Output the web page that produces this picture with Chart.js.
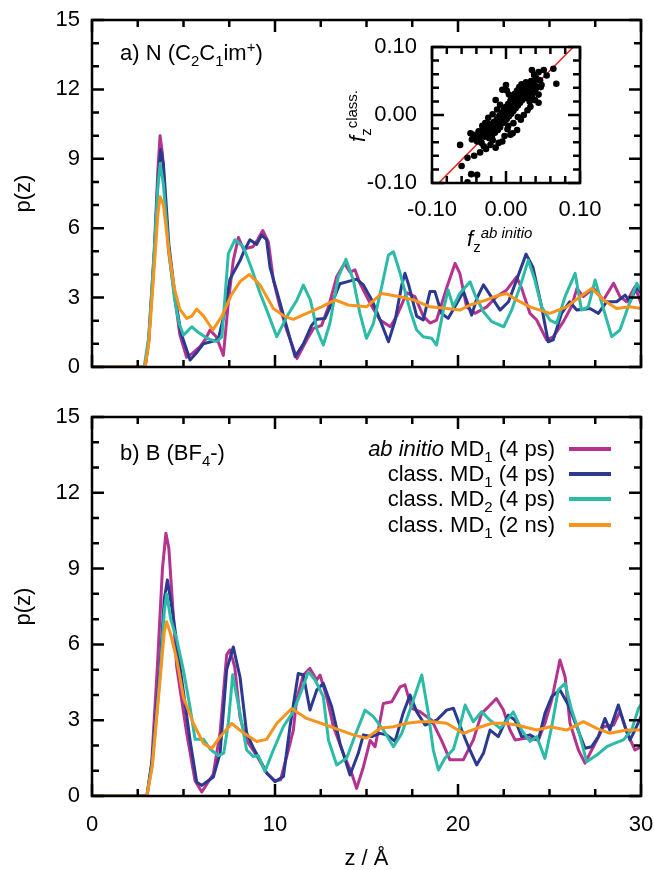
<!DOCTYPE html>
<html>
<head>
<meta charset="utf-8">
<script src="https://cdn.jsdelivr.net/npm/chart.js@4.4.1/dist/chart.umd.min.js"></script>
<style>
  body { margin: 0; background: #fff; }
  #wrap { position: relative; width: 654px; height: 870px; font-family: "Liberation Sans", Arial, sans-serif; font-size: 22px; color: #000; }
  canvas { position: absolute; }
  .lab { position: absolute; line-height: 26px; white-space: nowrap; }
  .sb { font-size: 15px; position: relative; top: 6px; }
  .sp { font-size: 15px; position: relative; top: -8px; }
  .key { position: absolute; left: 569px; width: 42px; height: 4px; }
</style>
</head>
<body>
<div id="wrap">
  <canvas id="chartA" width="654" height="390" style="left:0;top:0"></canvas>
  <canvas id="chartB" width="654" height="480" style="left:0;top:390px"></canvas>
  <canvas id="inset" width="280" height="200" style="left:340px;top:30px"></canvas>

  <div class="lab" style="left:120px;top:40px">a) N (C<span class="sb">2</span>C<span class="sb">1</span>im<span class="sp">+</span>)</div>
  <div class="lab" style="left:120px;top:440px">b) B (BF<span class="sb">4</span>-)</div>

  <!-- legend, panel b -->
  <div class="lab" style="right:99px;top:436px;text-align:right"><i>ab initio</i> MD<span class="sb">1</span> (4 ps)</div>
  <div class="lab" style="right:99px;top:461px;text-align:right">class. MD<span class="sb">1</span> (4 ps)</div>
  <div class="lab" style="right:99px;top:486px;text-align:right">class. MD<span class="sb">2</span> (4 ps)</div>
  <div class="lab" style="right:99px;top:512px;text-align:right">class. MD<span class="sb">1</span> (2 ns)</div>
  <div class="key" id="k1" style="top:447px"></div>
  <div class="key" id="k2" style="top:472px"></div>
  <div class="key" id="k3" style="top:497px"></div>
  <div class="key" id="k4" style="top:523px"></div>

  <!-- inset axis titles -->
  <div class="lab" style="left:467px;top:226px"><i>f</i><span class="sb">z</span><span class="sp"><i>ab initio</i></span></div>
  <div class="lab" style="left:309px;top:102px;width:100px;text-align:center;transform:rotate(-90deg)"><i>f</i><span class="sb">z</span><span class="sp">class.</span></div>
</div>

<script>
// tick labels
const zTicks = [0, 10, 20, 30];
const pTicks = [0, 3, 6, 9, 12, 15];
const fTicks = [-0.1, 0, 0.1];

// panel a: N (C2C1im+), [z, p(z)]
const aAbInitio = [[0,0],[2.9,0],[3.1,1.2],[3.4,5.0],[3.6,8.5],[3.72,10.0],[3.85,9.2],[4.17,5.1],[4.54,2.9],[4.8,1.4],[5.17,0.42],[5.5,0.6],[5.9,0.88],[6.2,1.2],[6.45,1.6],[6.8,1.3],[7.18,0.5],[7.45,2.8],[7.72,4.6],[8.0,5.6],[8.27,5.1],[8.8,5.2],[9.05,5.5],[9.33,5.9],[9.64,5.4],[9.91,3.76],[10.27,2.6],[10.64,1.6],[11.2,0.37],[11.73,1.17],[12.1,1.67],[12.55,1.8],[12.92,2.6],[13.37,3.9],[13.8,4.48],[14.1,4.1],[14.37,4.2],[14.64,3.62],[15.2,2.75],[15.74,2.03],[16.3,1.74],[16.65,2.2],[17.2,3.2],[17.65,3.04],[18.1,2.2],[18.47,1.9],[18.83,2.03],[19.4,3.47],[19.84,4.48],[20.1,4.05],[20.47,2.6],[20.93,2.32],[21.57,2.6],[22.1,3.04],[22.66,3.33],[23.2,3.9],[23.48,3.4],[23.93,2.32],[24.3,2.03],[24.84,1.17],[25.2,1.3],[25.76,1.96],[26.2,2.61],[26.5,3.4],[26.85,3.04],[27.4,3.4],[27.95,2.9],[28.5,3.62],[28.85,3.04],[29.22,2.82],[29.67,3.47],[30,2.75]];
const aClass1 = [[0,0],[2.9,0],[3.1,1.1],[3.4,4.8],[3.6,8.0],[3.75,9.4],[3.9,8.8],[4.2,5.3],[4.55,3.0],[4.85,1.5],[5.36,0.3],[5.7,0.6],[6.08,1.0],[6.54,1.1],[6.9,1.2],[7.2,2.2],[7.54,3.8],[8.09,4.6],[8.3,5.0],[8.63,5.5],[9.0,5.3],[9.27,5.7],[9.54,5.5],[9.73,4.3],[10.09,3.3],[10.64,1.73],[11.1,0.45],[11.55,1.0],[12.0,1.8],[12.28,2.06],[12.73,2.1],[13.1,2.75],[13.55,3.6],[13.92,3.68],[14.46,3.8],[14.83,3.55],[15.29,2.9],[15.74,2.04],[16.2,1.09],[16.56,2.0],[16.93,3.56],[17.1,4.05],[17.3,3.56],[17.74,2.2],[18.1,2.03],[18.47,3.26],[18.74,3.26],[19.1,2.32],[19.46,2.1],[19.93,2.75],[20.3,3.26],[20.75,2.24],[21.03,2.97],[21.39,3.55],[21.76,3.11],[22.3,2.46],[22.76,2.82],[23.2,3.76],[23.72,4.88],[24.1,4.3],[24.57,2.6],[24.93,1.09],[25.2,1.17],[25.66,2.32],[26.1,2.82],[26.49,2.46],[27.21,2.53],[27.67,2.32],[28.12,2.82],[28.67,2.82],[29.13,3.11],[29.4,2.82],[29.77,3.47],[30,3.2]];
const aClass2 = [[0,0],[2.85,0],[3.1,1.3],[3.4,5.0],[3.6,7.8],[3.72,8.8],[3.9,7.9],[4.2,5.0],[4.5,3.0],[4.75,1.9],[5.0,1.38],[5.45,1.74],[5.8,1.5],[6.27,1.25],[6.8,1.1],[7.1,1.3],[7.45,4.9],[7.81,5.5],[8.27,5.2],[8.7,4.3],[9.18,3.2],[9.55,2.46],[10.1,1.31],[10.64,2.17],[11.2,2.9],[11.55,3.54],[11.93,2.9],[12.3,1.6],[12.64,0.95],[13.0,1.89],[13.46,3.9],[13.88,4.65],[14.28,3.76],[14.64,2.32],[15.0,1.24],[15.38,1.89],[15.83,3.47],[16.2,4.84],[16.47,4.98],[16.84,4.05],[17.38,2.46],[17.74,1.6],[18.1,1.31],[18.56,1.24],[18.83,0.95],[19.2,2.46],[19.46,3.33],[19.74,2.61],[20.1,3.18],[20.66,3.68],[20.93,3.11],[21.39,2.39],[21.84,1.96],[22.5,1.74],[22.93,2.46],[23.39,3.47],[23.84,4.62],[24.2,3.76],[24.57,2.6],[25.02,2.03],[25.39,1.89],[25.85,3.04],[26.4,4.05],[26.75,2.46],[27.12,2.6],[27.49,3.76],[27.86,2.75],[28.4,1.31],[28.85,1.6],[29.3,2.6],[29.77,3.62],[30,3.3]];
const aClass1Long = [[0,0],[2.9,0],[3.1,1.0],[3.4,4.3],[3.6,6.6],[3.72,7.36],[3.9,7.0],[4.2,5.0],[4.5,3.4],[4.8,2.5],[5.17,2.1],[5.45,2.2],[5.72,2.5],[6.1,2.2],[6.6,1.6],[7.1,2.2],[7.6,3.1],[8.1,3.7],[8.6,4.0],[9.18,3.55],[9.91,2.53],[10.5,2.2],[11.0,2.06],[11.73,2.32],[12.55,2.6],[13.28,2.9],[14.0,2.68],[15.0,2.6],[15.83,3.18],[16.84,3.04],[17.56,2.9],[18.47,2.6],[19.4,2.53],[20.1,2.46],[20.66,2.68],[21.57,2.9],[22.1,3.07],[22.66,3.18],[23.2,2.9],[23.93,2.6],[25.02,2.32],[25.94,2.6],[26.67,3.04],[27.3,3.4],[27.95,2.9],[28.67,2.53],[29.4,2.6],[30,2.53]];

// panel b: B (BF4-)
const bAbInitio = [[0,0],[3.0,0],[3.25,1.2],[3.57,5.1],[3.85,9.0],[4.04,10.4],[4.2,9.8],[4.4,7.6],[4.63,5.1],[5.17,2.5],[5.63,0.6],[6.0,0.16],[6.63,0.87],[7.0,2.5],[7.36,5.6],[7.54,5.78],[7.8,5.1],[8.09,3.1],[8.45,2.2],[9.0,1.6],[9.54,0.92],[10.0,0.6],[10.3,0.64],[10.73,1.82],[11.0,2.6],[11.18,3.8],[11.55,4.79],[11.91,5.05],[12.28,4.59],[12.46,4.79],[12.82,3.93],[13.19,2.75],[13.73,1.69],[14.19,0.9],[14.46,0.3],[14.83,1.15],[15.2,2.2],[15.47,1.95],[15.92,3.66],[16.38,3.73],[16.84,4.32],[17.1,4.4],[17.47,3.47],[17.92,3.34],[18.56,3.0],[19.1,2.2],[19.56,1.43],[20.29,1.43],[20.84,2.22],[21.29,3.27],[21.66,3.53],[22.1,3.86],[22.48,3.4],[22.84,2.61],[23.12,2.22],[23.75,2.29],[24.39,2.22],[24.75,2.88],[25.12,3.8],[25.57,5.38],[25.85,4.72],[26.12,2.88],[26.58,1.82],[26.94,1.3],[27.4,1.95],[27.95,2.74],[28.5,2.81],[28.85,3.34],[29.22,2.55],[29.67,1.82],[30,1.95]];
const bClass1 = [[0,0],[3.0,0],[3.3,1.5],[3.72,5.1],[3.95,7.8],[4.12,8.55],[4.4,7.3],[4.81,5.1],[5.36,2.2],[5.72,0.55],[6.0,0.42],[6.63,0.75],[7.0,1.7],[7.36,5.0],[7.72,5.9],[8.09,4.7],[8.45,2.5],[8.82,1.9],[9.27,1.3],[9.55,0.9],[10.0,0.57],[10.46,0.77],[10.82,2.75],[11.27,4.85],[11.55,4.79],[11.91,3.4],[12.28,4.19],[12.64,4.46],[13.1,3.53],[13.55,2.09],[14.1,0.83],[14.55,1.69],[14.83,2.42],[15.29,2.35],[15.74,2.48],[16.1,2.42],[16.56,2.16],[17.0,3.27],[17.38,4.0],[17.74,3.34],[18.2,2.81],[18.83,3.0],[19.38,3.4],[19.75,3.47],[20.2,2.61],[20.57,1.95],[21.02,1.23],[21.39,1.69],[21.75,2.61],[22.2,2.35],[22.75,3.2],[23.12,3.0],[23.48,2.35],[23.93,2.42],[24.39,2.22],[24.75,3.27],[25.12,3.93],[25.57,4.2],[26.03,3.6],[26.49,2.74],[26.94,1.89],[27.3,1.95],[27.67,2.35],[28.03,3.07],[28.3,2.61],[28.76,3.6],[29.13,2.74],[29.4,2.22],[29.67,2.61],[30,3.14]];
const bClass2 = [[0,0],[3.0,0],[3.3,1.3],[3.72,4.8],[3.95,7.3],[4.08,8.0],[4.3,7.0],[4.63,6.2],[5.0,4.96],[5.36,3.5],[5.63,2.25],[6.09,2.25],[6.45,1.86],[6.9,1.6],[7.2,1.7],[7.45,2.9],[7.69,4.8],[8.09,3.26],[8.45,1.82],[8.82,1.56],[9.09,1.6],[9.45,0.97],[9.91,1.82],[10.46,2.75],[11.0,3.34],[11.46,4.19],[11.82,4.92],[12.19,4.59],[12.64,3.93],[12.92,2.22],[13.37,1.23],[13.92,1.5],[14.28,2.22],[14.64,2.88],[14.92,3.4],[15.38,3.14],[15.92,2.61],[16.47,1.95],[16.93,2.48],[17.47,3.6],[18.02,4.79],[18.38,3.27],[18.65,1.82],[18.93,1.03],[19.29,1.5],[19.75,1.85],[20.05,2.6],[20.39,3.6],[20.84,2.94],[21.29,3.34],[21.75,3.0],[22.3,2.68],[22.57,2.88],[23.02,3.33],[23.48,2.61],[23.93,2.16],[24.3,2.35],[24.75,1.49],[25.12,2.74],[25.48,4.2],[25.85,4.46],[26.21,3.4],[26.58,2.61],[27.03,1.36],[27.58,1.62],[28.13,1.95],[28.58,2.09],[29.04,2.22],[29.49,2.61],[29.86,3.47],[30,3.6]];
const bClass1Long = [[0,0],[3.0,0],[3.3,1.2],[3.72,4.6],[3.95,6.5],[4.08,6.9],[4.3,6.4],[4.63,5.4],[5.0,3.9],[5.54,2.87],[6.09,2.08],[6.54,1.88],[7.0,2.34],[7.63,2.87],[8.27,2.5],[9.0,2.16],[9.54,2.24],[10.09,2.87],[10.91,3.46],[11.73,3.07],[12.55,2.87],[13.55,2.61],[14.28,2.42],[15.0,2.29],[15.74,2.68],[16.47,2.74],[17.2,2.88],[17.92,2.94],[18.65,2.94],[19.38,2.88],[20.29,2.48],[21.02,2.68],[21.85,2.88],[22.48,2.88],[23.2,2.81],[24.3,2.61],[25.02,2.74],[25.94,2.61],[26.85,2.94],[27.58,2.68],[28.3,2.48],[29.22,2.61],[30,2.61]];

// inset: force comparison [f_z ab initio, f_z class.]
const forcePairs = [
  [-0.062,-0.044],[-0.060,-0.075],[-0.052,-0.063],[-0.047,-0.087],[-0.039,-0.088],[-0.052,-0.099],[-0.043,-0.060],[-0.035,-0.055],
  [-0.048,-0.027],[-0.044,-0.029],[-0.039,-0.039],[-0.046,-0.036],[-0.041,-0.031],[-0.036,-0.033],[-0.033,-0.041],[-0.030,-0.046],
  [-0.027,-0.050],[-0.021,-0.044],[-0.018,-0.037],[-0.014,-0.048],[-0.005,-0.039],[0.006,-0.029],[0.002,-0.021],[-0.037,-0.024],
  [-0.034,-0.028],[-0.031,-0.021],[-0.029,-0.032],[-0.026,-0.026],[-0.025,-0.018],[-0.023,-0.034],[-0.022,-0.013],[-0.020,-0.024],
  [-0.019,-0.030],[-0.017,-0.019],[-0.016,-0.010],[-0.015,-0.026],[-0.013,-0.016],[-0.012,-0.006],[-0.011,-0.022],[-0.010,-0.012],
  [-0.009,-0.001],[-0.008,-0.018],[-0.007,-0.008],[-0.006,0.003],[-0.005,-0.012],[-0.004,-0.004],[-0.003,0.008],[-0.002,-0.009],
  [-0.001,0.001],[0.000,0.012],[0.001,-0.006],[0.002,0.005],[0.003,0.016],[0.004,-0.002],[0.005,0.009],[0.006,0.021],
  [0.007,0.002],[0.008,0.013],[0.009,0.026],[0.010,0.006],[0.011,0.017],[0.012,0.031],[0.013,0.010],[0.014,0.022],
  [0.015,0.036],[0.016,0.014],[0.017,0.027],[0.018,0.041],[0.019,0.018],[0.020,0.032],[0.021,0.045],[0.022,0.022],
  [0.023,0.037],[0.024,0.028],[0.025,0.043],[0.026,0.033],[0.027,0.048],[0.028,0.025],[0.029,0.039],[0.030,0.030],
  [0.031,0.044],[0.032,0.020],[0.033,0.036],[0.034,0.050],[0.035,0.028],[0.036,0.041],[0.037,0.033],[0.038,0.047],
  [0.039,0.022],[0.040,0.038],[0.042,0.041],[0.044,0.030],[0.046,0.051],[0.048,0.044],
  [0.035,0.066],[0.044,0.063],[0.038,0.059],[0.051,0.066],[0.064,0.068],[0.068,0.046],[0.047,0.041],[0.055,0.058],[0.041,0.054],
  [-0.014,0.022],[-0.005,0.037],[0.000,0.044],[0.001,0.036],[0.004,0.030],[-0.008,0.015],[-0.012,0.008],[-0.018,0.001],
  [-0.024,-0.004],[-0.028,-0.012],[-0.032,-0.016],
  [0.020,-0.007],[0.029,0.007],[0.038,0.022],[0.024,0.000],[0.015,-0.022],[0.009,-0.027],[0.010,-0.012],[0.016,-0.003],
  [0.033,0.012],[0.044,0.018],[-0.010,-0.041],[-0.002,-0.031],[0.003,-0.016]
];
const fitLine = [[-0.1,-0.11],[0.1,0.11]];

const MAGENTA = '#b5338f', BLUE = '#2b3990', TEAL = '#2cbba7', ORANGE = '#f7941d';
const FONT = "'Liberation Sans', Arial, sans-serif";

document.getElementById('k1').style.background = MAGENTA;
document.getElementById('k2').style.background = BLUE;
document.getElementById('k3').style.background = TEAL;
document.getElementById('k4').style.background = ORANGE;

function curve(pairs, color, order) {
    return {
        data: pairs.map(([x, y]) => ({ x, y })),
        borderColor: color,
        borderWidth: 3,
        pointRadius: 0,
        fill: false,
        tension: 0,
        borderJoinStyle: 'round',
        order: order
    };
}

// frame + inward ticks on all four sides
function frameTicks(xStep, yStep) {
    return {
        id: 'frameTicks',
        afterDraw(chart) {
            const { ctx, chartArea: a, scales: { x, y } } = chart;
            const xMajor = x.ticks.map(t => t.value);
            const yMajor = y.ticks.map(t => t.value);
            ctx.save();
            ctx.strokeStyle = '#000';
            ctx.lineWidth = 2.5;
            ctx.beginPath();
            for (let i = 0; ; i++) {
                const v = x.min + i * xStep;
                if (v > x.max + 1e-9) break;
                const px = x.getPixelForValue(v);
                const len = xMajor.some(m => Math.abs(m - v) < 1e-9) ? 12 : 7;
                ctx.moveTo(px, a.bottom); ctx.lineTo(px, a.bottom - len);
                ctx.moveTo(px, a.top); ctx.lineTo(px, a.top + len);
            }
            for (let i = 0; ; i++) {
                const v = y.min + i * yStep;
                if (v > y.max + 1e-9) break;
                const py = y.getPixelForValue(v);
                const len = yMajor.some(m => Math.abs(m - v) < 1e-9) ? 12 : 7;
                ctx.moveTo(a.left, py); ctx.lineTo(a.left + len, py);
                ctx.moveTo(a.right, py); ctx.lineTo(a.right - len, py);
            }
            ctx.stroke();
            ctx.strokeRect(a.left, a.top, a.right - a.left, a.bottom - a.top);
            ctx.restore();
        }
    };
}

function mainOptions(padTop, xHeight, showX) {
    return {
        responsive: false,
        animation: false,
        events: [],
        layout: { padding: { top: padTop, right: 13, left: 0, bottom: 0 } },
        plugins: { legend: { display: false }, tooltip: { enabled: false } },
        scales: {
            x: {
                type: 'linear', min: 0, max: 30,
                afterBuildTicks: s => { s.ticks = zTicks.map(v => ({ value: v })); },
                afterFit: s => { s.height = xHeight; s.paddingLeft = 0; s.paddingRight = 0; },
                grid: { display: false, drawTicks: false },
                border: { display: false },
                ticks: { display: showX, padding: 16, color: '#000', font: { family: FONT, size: 22 } },
                title: { display: showX, text: 'z / Å', color: '#000', padding: 0, font: { family: FONT, size: 22, lineHeight: 1 } }
            },
            y: {
                min: 0, max: 15,
                afterBuildTicks: s => { s.ticks = pTicks.map(v => ({ value: v })); },
                afterFit: s => { s.width = 92; s.paddingTop = 0; s.paddingBottom = 0; },
                grid: { display: false, drawTicks: false },
                border: { display: false },
                ticks: { padding: 12, color: '#000', font: { family: FONT, size: 22 } },
                title: { display: true, text: 'p(z)', color: '#000', padding: { top: 13, bottom: 0 }, font: { family: FONT, size: 22, lineHeight: 1 } }
            }
        }
    };
}

// Panel a
new Chart(document.getElementById('chartA'), {
    type: 'line',
    data: {
        datasets: [
            curve(aAbInitio, MAGENTA, 3),
            curve(aClass1, BLUE, 2),
            curve(aClass2, TEAL, 1),
            curve(aClass1Long, ORANGE, 0)
        ]
    },
    options: mainOptions(20, 23, false),
    plugins: [frameTicks(2.5, 1)]
});

// Panel b
new Chart(document.getElementById('chartB'), {
    type: 'line',
    data: {
        datasets: [
            curve(bAbInitio, MAGENTA, 3),
            curve(bClass1, BLUE, 2),
            curve(bClass2, TEAL, 1),
            curve(bClass1Long, ORANGE, 0)
        ]
    },
    options: mainOptions(27, 74, true),
    plugins: [frameTicks(2.5, 1)]
});

// Inset: force correlation
const fmt = v => (Math.abs(v) < 1e-9 ? 0 : v).toFixed(2);
new Chart(document.getElementById('inset'), {
    type: 'scatter',
    data: {
        datasets: [
            {
                data: forcePairs.map(([x, y]) => ({ x, y })),
                backgroundColor: '#000',
                borderWidth: 0,
                pointRadius: 3.3,
                order: 0
            },
            {
                type: 'line',
                data: fitLine.map(([x, y]) => ({ x, y })),
                borderColor: '#e8231f',
                borderWidth: 1.5,
                pointRadius: 0,
                clip: 0,
                order: 1
            }
        ]
    },
    options: {
        responsive: false,
        animation: false,
        events: [],
        layout: { padding: { top: 17, right: 40, left: 0, bottom: 0 } },
        plugins: { legend: { display: false }, tooltip: { enabled: false } },
        scales: {
            x: {
                type: 'linear', min: -0.1, max: 0.1,
                afterBuildTicks: s => { s.ticks = fTicks.map(v => ({ value: v })); },
                afterFit: s => { s.height = 47; s.paddingLeft = 0; s.paddingRight = 0; },
                grid: { display: false, drawTicks: false },
                border: { display: false },
                ticks: { padding: 14, color: '#000', font: { family: FONT, size: 22 }, callback: fmt }
            },
            y: {
                min: -0.1, max: 0.1,
                afterBuildTicks: s => { s.ticks = fTicks.map(v => ({ value: v })); },
                afterFit: s => { s.width = 92; s.paddingTop = 0; s.paddingBottom = 0; },
                grid: { display: false, drawTicks: false },
                border: { display: false },
                ticks: { padding: 15, color: '#000', font: { family: FONT, size: 22 }, callback: fmt }
            }
        }
    },
    plugins: [frameTicks(0.02, 0.02)]
});
</script>
</body>
</html>
